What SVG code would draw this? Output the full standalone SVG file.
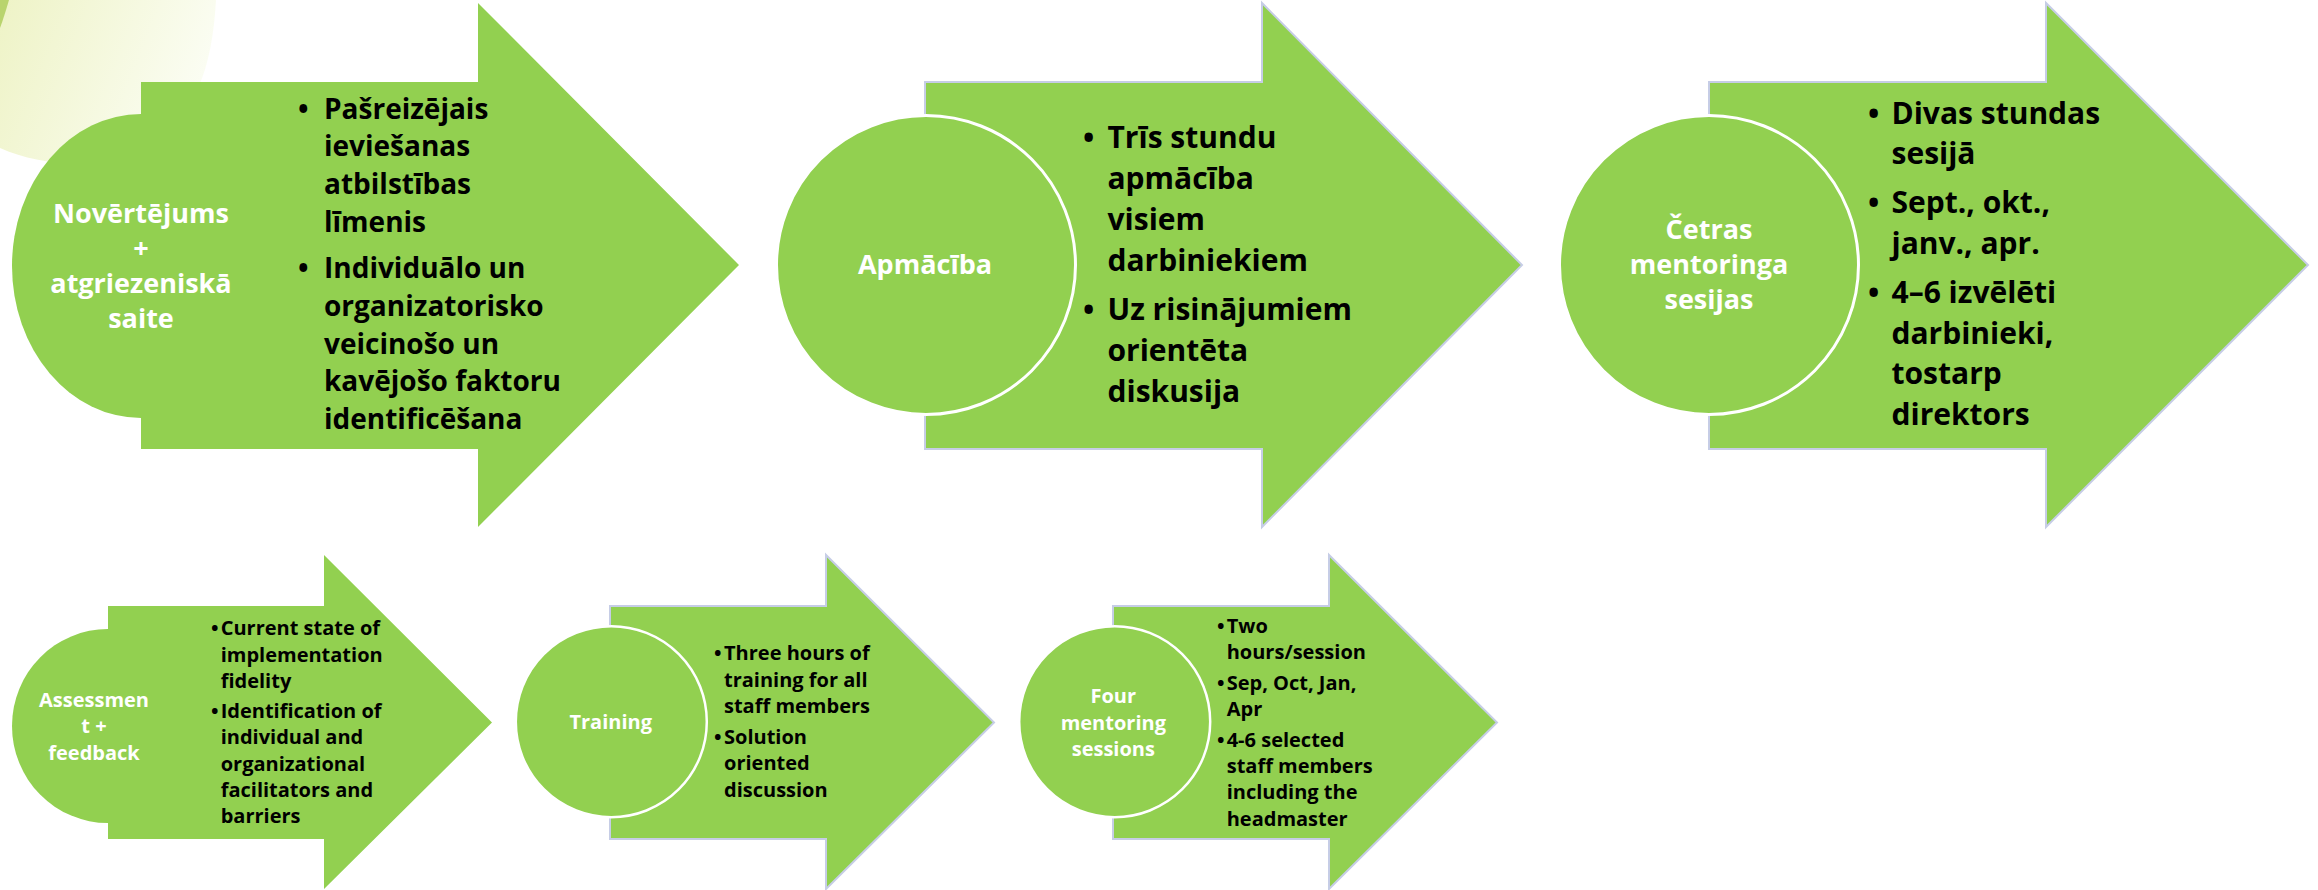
<svg xmlns="http://www.w3.org/2000/svg" width="2318" height="890" viewBox="0 0 2318 890">
  <defs>
    <linearGradient id="deco" x1="0" y1="0" x2="1" y2="0.3">
      <stop offset="0" stop-color="#eef3c6"/>
      <stop offset="1" stop-color="#fbfdf3"/>
    </linearGradient>
    <style>
      .arrow { fill: #92d050; }
      .arrow.ol { stroke: #c6cde6; stroke-width: 2; }
      .circ { fill: #92d050; }
      .circ.ol { stroke: #ffffff; stroke-width: 3; }
      .lbl { font-family: "Open Sans", "Liberation Sans", sans-serif; font-weight: 700; fill: #ffffff; text-anchor: middle; }
      .txt { font-family: "Open Sans", "Liberation Sans", sans-serif; font-weight: 700; fill: #000000; }
      .t1 { font-size: 28px; }
      .t2 { font-size: 30px; }
      .l1 { font-size: 27px; }
      .b { font-size: 20px; }
      .lb { font-size: 20px; }
    </style>
  </defs>
  <rect width="2318" height="890" fill="#ffffff"/>
  <!-- decorative background -->
  <path d="M0,0 L216,0 C212,70 195,115 150,145 C110,168 50,170 0,148 Z" fill="url(#deco)"/>
  <path d="M0,0 L9,0 C6,10 3,20 0,28 Z" fill="#b9d46e"/>

  <g id="connectors"></g>

  <!-- Top row -->
  <g id="node-novertejums">
    <ellipse class="circ" cx="141" cy="266" rx="129" ry="152"/>
    <path class="arrow" d="M141,82 H478 V3 L739,265 L478,527 V449 H141 Z"/>
    <text class="lbl l1" x="141"><tspan x="141" y="222.5">Novērtējums</tspan><tspan x="141" y="257.5">+</tspan><tspan x="141" y="292.5">atgriezeniskā</tspan><tspan x="141" y="327.5">saite</tspan></text>
    <text class="txt t1" x="298" y="118.5">•</text>
    <text class="txt t1"><tspan x="324" y="118.5">Pašreizējais</tspan><tspan x="324" y="156.3">ieviešanas</tspan><tspan x="324" y="194">atbilstības</tspan><tspan x="324" y="232">līmenis</tspan></text>
    <text class="txt t1" x="298" y="278">•</text>
    <text class="txt t1"><tspan x="324" y="278">Individuālo un</tspan><tspan x="324" y="315.8">organizatorisko</tspan><tspan x="324" y="353.6">veicinošo un</tspan><tspan x="324" y="391.4">kavējošo faktoru</tspan><tspan x="324" y="429.2">identificēšana</tspan></text>
  </g>

  <g id="node-apmaciba">
    <path class="arrow ol" d="M925,82 H1262 V3 L1522,265 L1262,527 V449 H925 Z"/>
    <circle class="circ ol" cx="926" cy="265" r="149.5"/>
    <text class="lbl l1" x="925" y="274">Apmācība</text>
    <text class="txt t2" x="1083" y="148">•</text>
    <text class="txt t2"><tspan x="1107.5" y="148">Trīs stundu</tspan><tspan x="1107.5" y="189">apmācība</tspan><tspan x="1107.5" y="230">visiem</tspan><tspan x="1107.5" y="271">darbiniekiem</tspan></text>
    <text class="txt t2" x="1083" y="319.5">•</text>
    <text class="txt t2"><tspan x="1107.5" y="319.5">Uz risinājumiem</tspan><tspan x="1107.5" y="360.5">orientēta</tspan><tspan x="1107.5" y="401.5">diskusija</tspan></text>
  </g>

  <g id="node-cetras">
    <path class="arrow ol" d="M1709,82 H2046 V3 L2308,265 L2046,527 V449 H1709 Z"/>
    <circle class="circ ol" cx="1709" cy="265" r="149.5"/>
    <text class="lbl l1"><tspan x="1709" y="238.5">Četras</tspan><tspan x="1709" y="273.5">mentoringa</tspan><tspan x="1709" y="308.5">sesijas</tspan></text>
    <text class="txt t2" x="1868" y="123.5">•</text>
    <text class="txt t2"><tspan x="1891.5" y="123.5">Divas stundas</tspan><tspan x="1891.5" y="164">sesijā</tspan></text>
    <text class="txt t2" x="1868" y="213">•</text>
    <text class="txt t2"><tspan x="1891.5" y="213">Sept., okt.,</tspan><tspan x="1891.5" y="254">janv., apr.</tspan></text>
    <text class="txt t2" x="1868" y="302.5">•</text>
    <text class="txt t2"><tspan x="1891.5" y="302.5">4–6 izvēlēti</tspan><tspan x="1891.5" y="343.5">darbinieki,</tspan><tspan x="1891.5" y="384">tostarp</tspan><tspan x="1891.5" y="425">direktors</tspan></text>
  </g>

  <!-- Bottom row -->
  <g id="node-assessment">
    <ellipse class="circ" cx="108" cy="726" rx="96" ry="97"/>
    <path class="arrow" d="M108,606 H324 V555 L492,722.5 L324,889 V839 H108 Z"/>
    <text class="lbl lb"><tspan x="94" y="706.7">Assessmen</tspan><tspan x="94" y="733.3">t +</tspan><tspan x="94" y="760">feedback</tspan></text>
    <text class="txt b" x="211" y="635">•</text>
    <text class="txt b"><tspan x="220.7" y="635">Current state of</tspan><tspan x="220.7" y="661.7">implementation</tspan><tspan x="220.7" y="687.7">fidelity</tspan></text>
    <text class="txt b" x="211" y="717.7">•</text>
    <text class="txt b"><tspan x="220.7" y="717.7">Identification of</tspan><tspan x="220.7" y="744">individual and</tspan><tspan x="220.7" y="770.7">organizational</tspan><tspan x="220.7" y="797.3">facilitators and</tspan><tspan x="220.7" y="823.3">barriers</tspan></text>
  </g>

  <g id="node-training">
    <path class="arrow ol" d="M610,606 H826 V555 L994,722.5 L826,889 V839 H610 Z"/>
    <circle class="circ ol" cx="611.3" cy="721.7" r="95.5" style="stroke-width:2.5"/>
    <text class="lbl lb" x="610.7" y="729.3">Training</text>
    <text class="txt b" x="714" y="660">•</text>
    <text class="txt b"><tspan x="724" y="660">Three hours of</tspan><tspan x="724" y="686.7">training for all</tspan><tspan x="724" y="713.3">staff members</tspan></text>
    <text class="txt b" x="714" y="744">•</text>
    <text class="txt b"><tspan x="724" y="744">Solution</tspan><tspan x="724" y="770">oriented</tspan><tspan x="724" y="797.3">discussion</tspan></text>
  </g>

  <g id="node-mentoring">
    <path class="arrow ol" d="M1113,606 H1329 V555 L1497,722.5 L1329,889 V839 H1113 Z"/>
    <circle class="circ ol" cx="1114.7" cy="721.7" r="95.5" style="stroke-width:2.5"/>
    <text class="lbl lb"><tspan x="1113.3" y="703.3">Four</tspan><tspan x="1113.3" y="730">mentoring</tspan><tspan x="1113.3" y="756">sessions</tspan></text>
    <text class="txt b" x="1217" y="632.7">•</text>
    <text class="txt b"><tspan x="1226.7" y="632.7">Two</tspan><tspan x="1226.7" y="659">hours/session</tspan></text>
    <text class="txt b" x="1217" y="690">•</text>
    <text class="txt b"><tspan x="1226.7" y="690">Sep, Oct, Jan,</tspan><tspan x="1226.7" y="715.7">Apr</tspan></text>
    <text class="txt b" x="1217" y="746.7">•</text>
    <text class="txt b"><tspan x="1226.7" y="746.7">4-6 selected</tspan><tspan x="1226.7" y="773.3">staff members</tspan><tspan x="1226.7" y="799.3">including the</tspan><tspan x="1226.7" y="825.7">headmaster</tspan></text>
  </g>
</svg>
